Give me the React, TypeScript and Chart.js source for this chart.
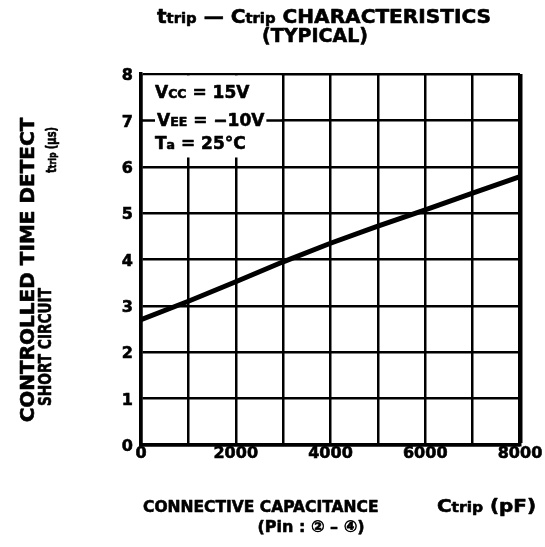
import { useEffect, useRef } from "react";
import { Chart, registerables } from "chart.js";

Chart.register(...registerables);

// ---- data ----
const capacitancePF = [0, 1000, 2000, 3000, 4000, 5000, 6000, 7000, 8000];
const ttripUs = [2.7, 3.1, 3.52, 3.95, 4.35, 4.72, 5.07, 5.43, 5.79];
const xTickLabels = [0, 2000, 4000, 6000, 8000];
const yTickLabels = [0, 1, 2, 3, 4, 5, 6, 7, 8];

const titleLine1 = ["t", "trip", " \u2014 ", "C", "trip", " CHARACTERISTICS"];
const titleLine2 = "(TYPICAL)";
const yTitleLine1 = "CONTROLLED TIME DETECT";
const yTitleLine2 = "SHORT CIRCUIT";
const yTitleUnit = ["t", "trip", " (\u03bcs)"];
const xTitleLine1 = "CONNECTIVE CAPACITANCE";
const xTitleUnit = ["C", "trip", " (pF)"];
const xTitleLine2 = "(Pin : \u2461 \u2013 \u2463)";

const conditionMain = ["V", "V", "T"];
const conditionSub = ["CC", "EE", "a"];
const conditionRest = [" = 15V", " = \u221210V", " = 25\u00b0C"];

const FAMILY = '"DejaVu Sans", "Noto Sans CJK JP", sans-serif';
const F = (size: number) => `bold ${size}px ${FAMILY}`;

type Seg = { t: string; s: number };

function segsWidth(ctx: CanvasRenderingContext2D, segs: Seg[]) {
  let w = 0;
  for (const g of segs) {
    ctx.font = F(g.s);
    w += ctx.measureText(g.t).width;
  }
  return w;
}

// draws text segments; if fitWidth is given, the whole run is scaled horizontally to that width
function drawSegs(
  ctx: CanvasRenderingContext2D,
  segs: Seg[],
  x: number,
  y: number,
  fitWidth?: number
) {
  const natural = segsWidth(ctx, segs);
  const k = fitWidth ? fitWidth / natural : 1;
  ctx.save();
  ctx.translate(x, y);
  ctx.scale(k, 1);
  let cx = 0;
  ctx.textAlign = "left";
  ctx.textBaseline = "alphabetic";
  ctx.strokeStyle = "#000";
  ctx.lineWidth = 0.6;
  ctx.lineJoin = "round";
  for (const g of segs) {
    ctx.font = F(g.s);
    ctx.fillText(g.t, cx, 0);
    ctx.strokeText(g.t, cx, 0);
    cx += ctx.measureText(g.t).width;
  }
  ctx.restore();
}

function drawSegsCentered(
  ctx: CanvasRenderingContext2D,
  segs: Seg[],
  cx: number,
  y: number,
  fitWidth?: number
) {
  const w = fitWidth ?? segsWidth(ctx, segs);
  drawSegs(ctx, segs, cx - w / 2, y, fitWidth);
}

const conditionsPlugin = {
  id: "conditionsBox",
  beforeDatasetsDraw(chart: any) {
    const ctx: CanvasRenderingContext2D = chart.ctx;
    const xs = chart.scales.x;
    const ys = chart.scales.y;
    const l = xs.getPixelForValue(0) + 2;
    const r = xs.getPixelForValue(3000) - 1.5;
    const t = ys.getPixelForValue(8) + 1.5;
    const b = ys.getPixelForValue(6.2);
    ctx.save();
    ctx.fillStyle = "#fff";
    ctx.fillRect(l, t, r - l, b - t);
    const y7 = ys.getPixelForValue(7);
    ctx.strokeStyle = "#000";
    ctx.lineWidth = 2.5;
    ctx.beginPath();
    ctx.moveTo(l - 2, y7);
    ctx.lineTo(r + 1.5, y7);
    ctx.stroke();
    const baselines = [t + 22, t + 50, t + 73];
    const starts = [l + 12, l + 14, l + 12];
    for (let i = 0; i < conditionMain.length; i++) {
      const segs: Seg[] = [
        { t: conditionMain[i], s: 17 },
        { t: conditionSub[i], s: 12.5 },
        { t: conditionRest[i], s: 17 },
      ];
      const w = segsWidth(ctx, segs);
      ctx.fillStyle = "#fff";
      ctx.fillRect(starts[i] - 2, baselines[i] - 15, w + 4, 19);
      ctx.fillStyle = "#000";
      drawSegs(ctx, segs, starts[i], baselines[i]);
    }
    ctx.restore();
  },
};

const titlesPlugin = {
  id: "titlesText",
  afterDraw(chart: any) {
    const ctx: CanvasRenderingContext2D = chart.ctx;
    ctx.save();
    ctx.fillStyle = "#000";
    // main title
    const sizes1 = [19, 14, 19, 19, 14, 19];
    drawSegsCentered(
      ctx,
      titleLine1.map((t, i) => ({ t, s: sizes1[i] })),
      324,
      23,
      334
    );
    drawSegsCentered(ctx, [{ t: titleLine2, s: 19 }], 315, 42);

    // x-axis title
    drawSegs(ctx, [{ t: xTitleLine1, s: 15.5 }], 143, 512);
    drawSegs(
      ctx,
      [
        { t: xTitleUnit[0], s: 18 },
        { t: xTitleUnit[1], s: 14 },
        { t: xTitleUnit[2], s: 18 },
      ],
      437,
      512,
      99
    );
    drawSegsCentered(ctx, [{ t: xTitleLine2, s: 16 }], 311, 532);

    // y-axis title (rotated)
    ctx.save();
    ctx.translate(34, 270);
    ctx.rotate(-Math.PI / 2);
    drawSegsCentered(ctx, [{ t: yTitleLine1, s: 20 }], 0, 0);
    ctx.restore();

    ctx.save();
    ctx.translate(51, 347);
    ctx.rotate(-Math.PI / 2);
    drawSegsCentered(ctx, [{ t: yTitleLine2, s: 17.5 }], 0, 0, 118);
    ctx.restore();

    ctx.save();
    ctx.translate(56, 150);
    ctx.rotate(-Math.PI / 2);
    drawSegsCentered(
      ctx,
      [
        { t: yTitleUnit[0], s: 14 },
        { t: yTitleUnit[1], s: 11 },
        { t: yTitleUnit[2], s: 14 },
      ],
      0,
      0,
      46
    );
    ctx.restore();

    ctx.restore();
  },
};

export default function App() {
  const canvasRef = useRef<HTMLCanvasElement | null>(null);

  useEffect(() => {
    if (!canvasRef.current) return;
    const tickFont = { family: FAMILY, size: 16, weight: "bold" as const };
    const chart = new Chart(canvasRef.current, {
      type: "line",
      data: {
        datasets: [
          {
            label: "ttrip",
            data: capacitancePF.map((x, i) => ({ x, y: ttripUs[i] })),
            borderColor: "#000",
            backgroundColor: "#000",
            borderWidth: 5,
            pointRadius: 0,
            tension: 0,
            fill: false,
          },
        ],
      },
      options: {
        animation: false,
        responsive: false,
        devicePixelRatio: 1,
        events: [],
        layout: { padding: { top: 74, right: 25, left: 0, bottom: 0 } },
        plugins: {
          legend: { display: false },
          title: { display: false },
          tooltip: { enabled: false },
        },
        scales: {
          x: {
            type: "linear",
            min: 0,
            max: 8000,
            ticks: {
              stepSize: 1000,
              autoSkip: false,
              maxRotation: 0,
              minRotation: 0,
              padding: -1,
              color: "#000",
              textStrokeColor: "#000",
              textStrokeWidth: 0.6,
              font: tickFont,
              callback: (v: any) => (xTickLabels.includes(Number(v)) ? String(v) : ""),
            },
            grid: {
              color: "#000",
              lineWidth: (c: any) => (c.tick && c.tick.value === 8000 ? 4.5 : 2.5),
              drawTicks: false,
            },
            border: { color: "#000", width: 3.5 },
            afterFit: (s: any) => {
              s.height = 102;
            },
          },
          y: {
            type: "linear",
            min: 0,
            max: 8,
            ticks: {
              stepSize: 1,
              padding: 8,
              labelOffset: 2,
              color: "#000",
              textStrokeColor: "#000",
              textStrokeWidth: 0.6,
              font: tickFont,
              callback: (v: any) => (yTickLabels.includes(Number(v)) ? String(v) : ""),
            },
            grid: {
              color: "#000",
              lineWidth: 2.5,
              drawTicks: false,
            },
            border: { color: "#000", width: 3.5 },
            afterFit: (s: any) => {
              s.width = 141;
            },
          },
        },
      },
      plugins: [conditionsPlugin, titlesPlugin],
    });
    return () => chart.destroy();
  }, []);

  return (
    <div
      style={{
        position: "fixed",
        left: 0,
        top: 0,
        width: 545,
        height: 547,
        background: "#fff",
      }}
    >
      <canvas ref={canvasRef} width={545} height={547} style={{ display: "block" }} />
    </div>
  );
}
